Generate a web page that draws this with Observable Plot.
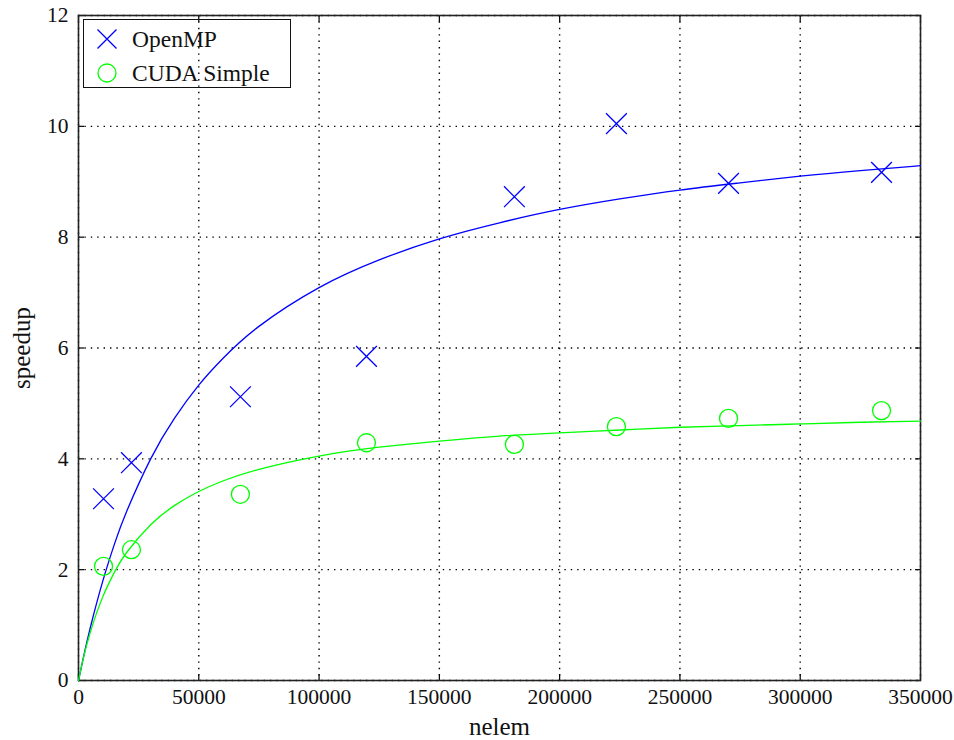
<!DOCTYPE html>
<html>
<head>
<meta charset="utf-8">
<script src="https://cdn.jsdelivr.net/npm/d3@7"></script>
<script src="https://cdn.jsdelivr.net/npm/@observablehq/plot@0.6"></script>
<style>
  body { margin: 0; background: #fff; }
  #wrap { position: relative; width: 954px; height: 740px; font-family: "Liberation Serif", serif; }
  #legend { position: absolute; left: 83px; top: 19px; width: 206px; height: 67px; border: 1.5px solid #111; box-sizing: content-box; }
  #legend .row { position: absolute; left: 0; height: 30px; display: flex; align-items: center; font-size: 23.5px; color: #111; }
  #legend svg { margin-left: 13px; margin-right: 15px; }
</style>
</head>
<body>
<div id="wrap"></div>
<script>
// Measured points
const nelem = [10400, 22000, 67300, 119700, 181200, 223600, 270200, 333800];
const openmp = [3.28, 3.93, 5.12, 5.85, 8.73, 10.05, 8.97, 9.17];
const cudaSimple = [2.06, 2.36, 3.36, 4.29, 4.26, 4.58, 4.73, 4.87];

// Fitted curves
const fitX = [0, 2000, 5000, 10000, 15000, 20000, 30000, 40000, 50000, 60000, 75000, 100000, 125000, 150000, 175000, 200000, 225000, 250000, 275000, 300000, 325000, 350000];
const fitOpenmp = [0, 0.41, 0.97, 1.78, 2.47, 3.05, 4.00, 4.74, 5.33, 5.81, 6.39, 7.09, 7.59, 7.97, 8.26, 8.50, 8.69, 8.85, 8.98, 9.10, 9.20, 9.29];
const fitCuda = [0, 0.40, 0.885, 1.50, 1.96, 2.31, 2.81, 3.16, 3.41, 3.60, 3.81, 4.05, 4.21, 4.32, 4.41, 4.47, 4.52, 4.57, 4.60, 4.63, 4.66, 4.68];

const xTicks = [0, 50000, 100000, 150000, 200000, 250000, 300000, 350000];
const yTicks = [0, 2, 4, 6, 8, 10, 12];
const seriesNames = ["OpenMP", "CUDA Simple"];
const colors = ["#0000ff", "#00ff00"];

const pts = nelem.map((x, i) => ({x, omp: openmp[i], cuda: cudaSimple[i]}));
const fit = fitX.map((x, i) => ({x, omp: fitOpenmp[i], cuda: fitCuda[i]}));

const grid = {stroke: "#000", strokeOpacity: 1, strokeWidth: 1.4, strokeDasharray: "1.4,5"};
const tickStyle = {stroke: "#000", strokeWidth: 1.2};

const chart = Plot.plot({
  width: 954,
  height: 740,
  marginLeft: 78,
  marginRight: 34,
  marginTop: 15,
  marginBottom: 60,
  style: {fontFamily: "Liberation Serif, serif", fontSize: "21px", color: "#111", background: "#fff"},
  x: {domain: [0, 350000]},
  y: {domain: [0, 12]},
  marks: [
    Plot.gridX(xTicks, grid),
    Plot.gridY(yTicks, grid),
    // inward ticks
    Plot.axisX({anchor: "bottom", ticks: xTicks, tickSize: 6, dy: -6, tickFormat: () => "", label: null, ...tickStyle}),
    Plot.axisX({anchor: "top", ticks: xTicks, tickSize: 6, dy: 6, tickFormat: () => "", label: null, ...tickStyle}),
    Plot.axisY({anchor: "left", ticks: yTicks, tickSize: 6, dx: 6, tickFormat: () => "", label: null, ...tickStyle}),
    Plot.axisY({anchor: "right", ticks: yTicks, tickSize: 6, dx: -6, tickFormat: () => "", label: null, ...tickStyle}),
    // tick labels
    Plot.axisX({anchor: "bottom", ticks: xTicks, tickSize: 0, tickPadding: 8, tickFormat: d => String(d), label: null, fontSize: 21.5}),
    Plot.axisY({anchor: "left", ticks: yTicks, tickSize: 0, tickPadding: 10, tickFormat: d => String(d), label: null, fontSize: 21.5}),
    Plot.text(["nelem"], {frameAnchor: "bottom", textAnchor: "middle", lineAnchor: "middle", dy: 46, fontSize: 25, fill: "#111"}),
    Plot.text(["speedup"], {frameAnchor: "left", textAnchor: "middle", lineAnchor: "middle", rotate: -90, dx: -57, fontSize: 25, fill: "#111"}),
    Plot.frame({stroke: "#222", strokeWidth: 1.6}),
    Plot.line(fit, {x: "x", y: "omp", stroke: colors[0], strokeWidth: 1.3, curve: "natural"}),
    Plot.line(fit, {x: "x", y: "cuda", stroke: colors[1], strokeWidth: 1.3, curve: "natural"}),
    Plot.dot(pts, {x: "x", y: "omp", symbol: "times", r: 9.5, stroke: colors[0], strokeWidth: 1.3}),
    Plot.dot(pts, {x: "x", y: "cuda", symbol: "circle", r: 9, stroke: colors[1], strokeWidth: 1.3, fill: "none"})
  ]
});

const wrap = document.getElementById("wrap");
wrap.appendChild(chart);

const legend = document.createElement("div");
legend.id = "legend";
const symbols = [
  `<svg width="20" height="20" viewBox="-10 -10 20 20"><path d="M-9.5,-9.5L9.5,9.5M9.5,-9.5L-9.5,9.5" stroke="${colors[0]}" stroke-width="1.3" fill="none"/></svg>`,
  `<svg width="20" height="20" viewBox="-10 -10 20 20"><circle r="9" stroke="${colors[1]}" stroke-width="1.3" fill="none"/></svg>`
];
seriesNames.forEach((name, i) => {
  const row = document.createElement("div");
  row.className = "row";
  row.style.top = (i === 0 ? 4 : 38) + "px";
  row.innerHTML = symbols[i] + `<span>${name}</span>`;
  legend.appendChild(row);
});
wrap.appendChild(legend);
</script>
</body>
</html>
